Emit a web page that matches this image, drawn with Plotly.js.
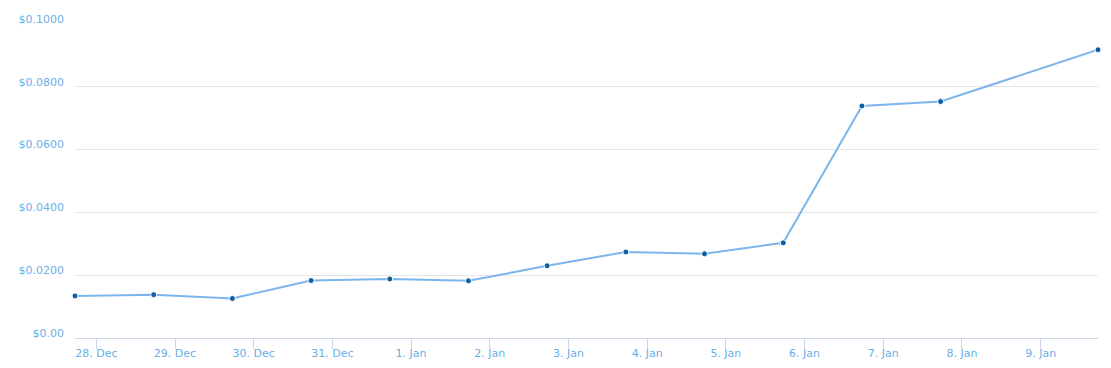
<!DOCTYPE html>
<html>
<head>
<meta charset="utf-8">
<script src="https://cdn.plot.ly/plotly-3.0.1.min.js"></script>
<style>html,body{margin:0;padding:0;background:#fff;}#chart{width:1111px;height:368px;}</style>
</head>
<body>
<div id="chart"></div>
<script>
const dates = ['2017-12-27 17:30','2017-12-28 17:30','2017-12-29 17:30','2017-12-30 17:30','2017-12-31 17:30','2018-01-01 17:30','2018-01-02 17:30','2018-01-03 17:30','2018-01-04 17:30','2018-01-05 17:30','2018-01-06 17:30','2018-01-07 17:30','2018-01-09 17:30'];
const prices = [0.0134, 0.0138, 0.0126, 0.0183, 0.0188, 0.0182, 0.0230, 0.0274, 0.0268, 0.0303, 0.0739, 0.0753, 0.0918];
const yTickVals = [0, 0.02, 0.04, 0.06, 0.08, 0.10];
const yTickText = ['$0.00', '$0.0200', '$0.0400', '$0.0600', '$0.0800', '$0.1000'];

const labelColor = '#6aaee6';
Plotly.newPlot('chart', [{
  x: dates, y: prices, type: 'scatter', mode: 'lines+markers',
  line: {color: '#7cb5ec', width: 2},
  marker: {color: '#0d5fa6', size: 6, line: {color: '#ffffff', width: 1}},
  cliponaxis: false, hoverinfo: 'x+y'
}], {
  width: 1111, height: 368,
  margin: {l: 75, r: 13, t: 24, b: 30},
  paper_bgcolor: '#ffffff', plot_bgcolor: '#ffffff',
  showlegend: false,
  font: {family: 'DejaVu Sans', size: 11, color: labelColor},
  xaxis: {
    type: 'date', range: ['2017-12-27 17:30', '2018-01-09 17:30'],
    tick0: '2017-12-28', dtick: 86400000, tickformat: '%-d. %b',
    showgrid: false, zeroline: false,
    showline: true, linecolor: '#ccd6eb', linewidth: 1,
    ticks: 'outside', ticklen: 10, tickcolor: '#ccd6eb', tickwidth: 1,
    ticklabelstandoff: -5,
    tickfont: {family: 'DejaVu Sans', size: 11, color: labelColor}
  },
  yaxis: {
    range: [0, 0.1], tickvals: yTickVals, ticktext: yTickText,
    showgrid: true, gridcolor: '#e6e6e6', gridwidth: 1,
    zeroline: false, showline: false, ticks: '',
    ticklabelshift: -5, ticklabelstandoff: 10,
    tickfont: {family: 'DejaVu Sans', size: 11, color: labelColor}
  }
}, {displayModeBar: false, staticPlot: true});
</script>
</body>
</html>
